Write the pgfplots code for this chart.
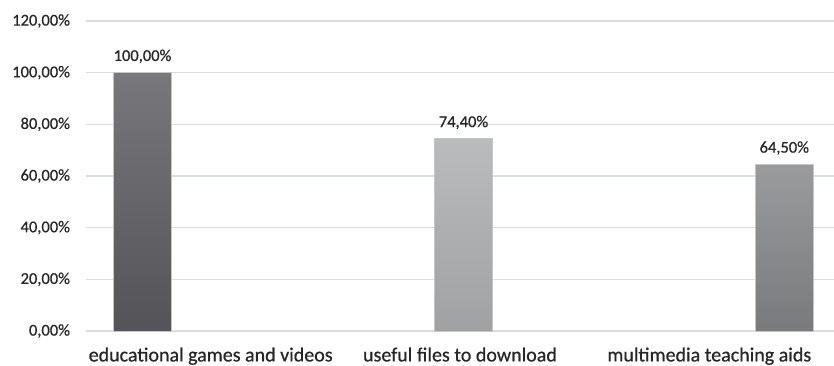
\documentclass[border=0pt]{standalone}
\usepackage{fontspec}
\setmainfont{Carlito}[FakeBold=0.6]
\newfontfamily\lbl{Carlito}[FakeBold=0.6]
\usepackage{pgfplots}
\pgfplotsset{compat=1.18}

\definecolor{txt}{HTML}{262626}
\definecolor{gridc}{HTML}{D9DDE3}
\definecolor{edge}{HTML}{C4C5C8}
\definecolor{aTop}{HTML}{78787C}
\definecolor{aBot}{HTML}{545458}
\definecolor{bTop}{HTML}{BABBBD}
\definecolor{bBot}{HTML}{A0A1A3}
\definecolor{cTop}{HTML}{9A9B9D}
\definecolor{cBot}{HTML}{797A7C}

\begin{document}
\begin{tikzpicture}
\begin{axis}[
  scale only axis,
  width=748bp, height=310bp,
  xmin=-0.5, xmax=2.5,
  ymin=0, ymax=120,
  ytick={0,20,...,120},
  xtick={0,1,2},
  xticklabels={educational games and videos, useful files to download, multimedia teaching aids},
  axis line style={draw=none},
  tick style={draw=none},
  major tick length=0pt,
  ymajorgrids,
  major grid style={color=gridc, line width=1.5bp},
  /pgf/number format/.cd, fixed, fixed zerofill, precision=2, use comma, assume math mode=true,
  /pgfplots/.cd,
  yticklabel={\pgfmathprintnumber{\tick}\%},
  yticklabel style={font=\fontsize{16.5bp}{19bp}\selectfont, text=txt, xshift=-12.5bp},
  xticklabel style={font=\fontsize{20bp}{24bp}\selectfont, text=txt, yshift=-13bp},
  ybar, bar shift=0pt, bar width=0.231,
  nodes near coords={\pgfmathprintnumber{\pgfplotspointmeta}\%},
  every node near coord/.append style={font=\fontsize{16.5bp}{19bp}\selectfont, text=txt, yshift=6bp},
]
% one series per category, offset inside its slot
\addplot[draw=edge, line width=0.6bp, top color=aTop, bottom color=aBot]
  coordinates {(-0.2734,100.0)};
\addplot[draw=edge, line width=0.6bp, top color=bTop, bottom color=bBot]
  coordinates {(1.0141,74.4)};
\addplot[draw=edge, line width=0.6bp, top color=cTop, bottom color=cBot]
  coordinates {(2.3007,64.5)};
\end{axis}
\pgfresetboundingbox
\path[use as bounding box] (-86bp,-35bp) rectangle (748bp,331bp);
\end{tikzpicture}
\end{document}
